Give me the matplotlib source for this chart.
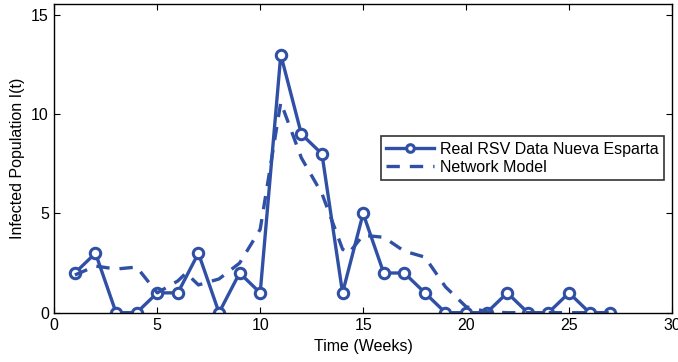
import matplotlib
matplotlib.use("Agg")
import matplotlib.pyplot as plt

plt.rcParams['font.family'] = ['Liberation Sans', 'DejaVu Sans']

weeks = list(range(1, 28))
real = [2, 3, 0, 0, 1, 1, 3, 0, 2, 1, 13, 9, 8, 1, 5, 2, 2, 1, 0, 0, 0, 1, 0, 0, 1, 0, 0]
model_weeks = [1, 2, 3, 4, 5, 6, 6.4, 7, 8, 9, 10, 11, 12, 13, 14, 14.3, 15, 16, 17, 18, 19, 20, 21, 22, 23, 24, 25, 26, 27]
model = [1.9, 2.35, 2.2, 2.3, 1.0, 1.6, 2.0, 1.4, 1.7, 2.5, 4.2, 10.6, 7.8, 6.0, 3.2, 3.0, 3.9, 3.8, 3.1, 2.8, 1.3, 0.3, 0.05, 0, 0, 0, 0, 0, 0]

color = '#3050A5'

fig = plt.figure(figsize=(6.78, 3.62), dpi=100)
ax = fig.add_axes([0.0801, 0.1362, 0.911, 0.8536])
ax.plot(weeks, real, '-o', color=color, lw=2.4, ms=7.5, mfc='white', mec=color, mew=2.2,
        label='Real RSV Data Nueva Esparta')
ax.plot(model_weeks, model, '--', color=color, lw=2.4, dashes=(4, 3), label='Network Model')

ax.set_xlim(0, 30)
ax.set_ylim(0, 15.57)
ax.set_xticks([0, 5, 10, 15, 20, 25, 30])
ax.set_yticks([0, 5, 10, 15])
ax.tick_params(direction='in', top=True, right=True, labelsize=11.5, length=4, pad=4)
for s in ax.spines.values():
    s.set_linewidth(1.0)
ax.set_xlabel('Time (Weeks)', fontsize=11.5)
ax.set_ylabel('Infected Population I(t)', fontsize=11.5)
leg = ax.legend(loc='upper right', bbox_to_anchor=(0.987, 0.572), borderaxespad=0,
                fancybox=False, edgecolor='black', fontsize=11.5, handlelength=3.0,
                borderpad=0.35, labelspacing=0.2, handletextpad=0.35)
leg.get_frame().set_linewidth(1.2)
leg.legend_handles[0].set_markersize(5.5)
fig.savefig('out.png', dpi=100)
